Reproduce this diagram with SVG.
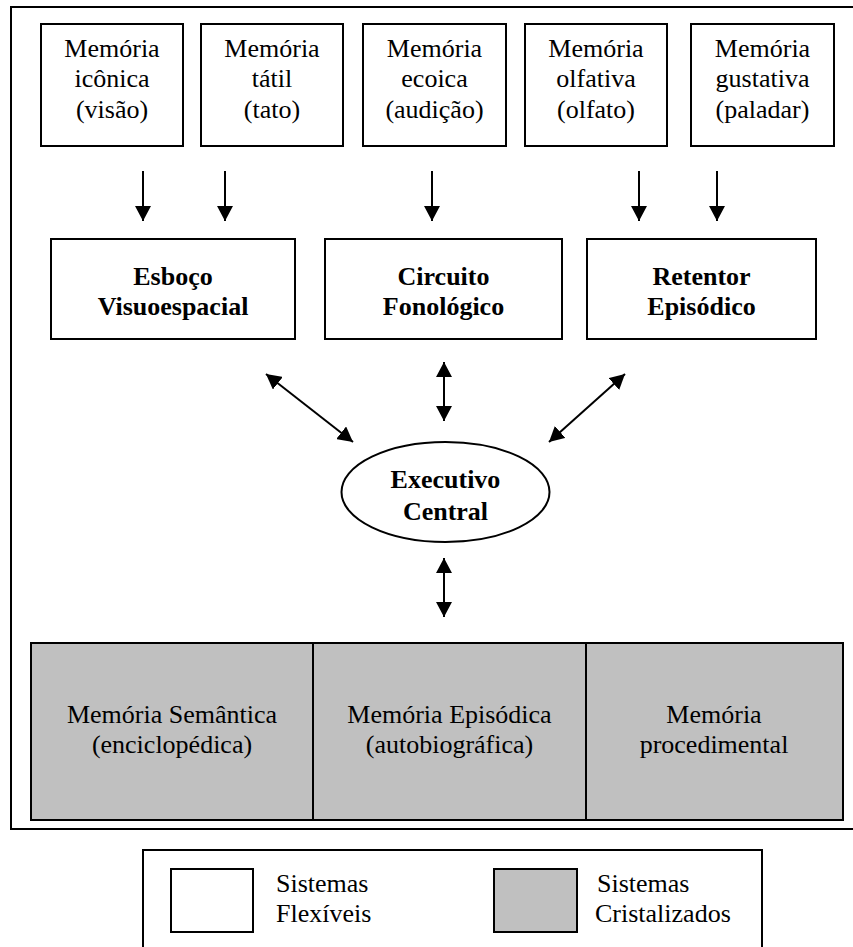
<svg xmlns="http://www.w3.org/2000/svg" width="853" height="947" viewBox="0 0 853 947">
<defs>
<style>
.bx{fill:#fff;stroke:#000;stroke-width:2}
.gr{fill:#c0c0c0;stroke:#000;stroke-width:2}
.t{font-family:"Liberation Serif","Times New Roman",serif;font-size:26px;fill:#000;text-anchor:middle}
.b{font-weight:bold}
.l{text-anchor:start}
.c{stroke:#000;stroke-width:2;fill:none}
</style>
<marker id="ah" markerUnits="userSpaceOnUse" markerWidth="16" markerHeight="16" refX="15" refY="8" orient="auto-start-reverse" viewBox="0 0 16 16">
<path d="M0,0 L15,8 L0,16 z" fill="#000"/>
</marker>
</defs>
<rect width="853" height="947" fill="#fff"/>
<rect id="frame" x="11" y="7" width="850" height="822" fill="none" stroke="#000" stroke-width="2"/>

<g id="iconica"><rect class="bx" x="41" y="24" width="142" height="122"/>
<text class="t" x="112" y="57">Memória</text><text class="t" x="112" y="87">icônica</text><text class="t" x="112" y="118">(visão)</text></g>
<g id="tatil"><rect class="bx" x="201" y="24" width="142" height="122"/>
<text class="t" x="272" y="57">Memória</text><text class="t" x="272" y="87">tátil</text><text class="t" x="272" y="118">(tato)</text></g>
<g id="ecoica"><rect class="bx" x="363" y="24" width="143" height="122"/>
<text class="t" x="434.5" y="57">Memória</text><text class="t" x="434.5" y="87">ecoica</text><text class="t" x="434.5" y="118">(audição)</text></g>
<g id="olfativa"><rect class="bx" x="525" y="24" width="142" height="122"/>
<text class="t" x="596" y="57">Memória</text><text class="t" x="596" y="87">olfativa</text><text class="t" x="596" y="118">(olfato)</text></g>
<g id="gustativa"><rect class="bx" x="691" y="24" width="143" height="122"/>
<text class="t" x="762.5" y="57">Memória</text><text class="t" x="762.5" y="87">gustativa</text><text class="t" x="762.5" y="118">(paladar)</text></g>

<g id="esboco"><rect class="bx" x="51" y="239" width="244" height="100"/>
<text class="t b" x="173" y="285">Esboço</text><text class="t b" x="173" y="315">Visuoespacial</text></g>
<g id="circuito"><rect class="bx" x="325" y="239" width="237" height="100"/>
<text class="t b" x="443.5" y="285">Circuito</text><text class="t b" x="443.5" y="315">Fonológico</text></g>
<g id="retentor"><rect class="bx" x="587" y="239" width="229" height="100"/>
<text class="t b" x="701.5" y="285">Retentor</text><text class="t b" x="701.5" y="315">Episódico</text></g>

<g id="executivo"><ellipse cx="445.5" cy="492" rx="104" ry="50" fill="#fff" stroke="#000" stroke-width="2"/>
<text class="t b" x="445.5" y="488">Executivo</text><text class="t b" x="445.5" y="520">Central</text></g>

<g id="semantica"><rect class="gr" x="31" y="643" width="282" height="177"/>
<text class="t" x="172" y="723">Memória Semântica</text><text class="t" x="172" y="753">(enciclopédica)</text></g>
<g id="episodica"><rect class="gr" x="313" y="643" width="273" height="177"/>
<text class="t" x="449.5" y="723">Memória Episódica</text><text class="t" x="449.5" y="753">(autobiográfica)</text></g>
<g id="procedimental"><rect class="gr" x="586" y="643" width="257" height="177"/>
<text class="t" x="714" y="723">Memória</text><text class="t" x="714" y="753">procedimental</text></g>

<g id="connectors">
<line class="c" x1="143" y1="171" x2="143" y2="221" marker-end="url(#ah)"/>
<line class="c" x1="225" y1="171" x2="225" y2="221" marker-end="url(#ah)"/>
<line class="c" x1="432" y1="171" x2="432" y2="221" marker-end="url(#ah)"/>
<line class="c" x1="639" y1="171" x2="639" y2="221" marker-end="url(#ah)"/>
<line class="c" x1="717" y1="171" x2="717" y2="221" marker-end="url(#ah)"/>
<line class="c" x1="444" y1="362" x2="444" y2="421" marker-start="url(#ah)" marker-end="url(#ah)"/>
<line class="c" x1="266" y1="374" x2="353" y2="442" marker-start="url(#ah)" marker-end="url(#ah)"/>
<line class="c" x1="625" y1="374" x2="549" y2="442" marker-start="url(#ah)" marker-end="url(#ah)"/>
<line class="c" x1="444" y1="558" x2="444" y2="617" marker-start="url(#ah)" marker-end="url(#ah)"/>
</g>

<g id="legend">
<rect x="143" y="850" width="619" height="110" fill="#fff" stroke="#000" stroke-width="2"/>
<rect class="bx" x="171" y="869" width="82" height="63"/>
<text class="t l" x="276" y="892">Sistemas</text><text class="t l" x="276" y="922">Flexíveis</text>
<rect class="gr" x="494" y="869" width="83" height="63"/>
<text class="t l" x="597" y="892">Sistemas</text><text class="t l" x="595" y="922">Cristalizados</text>
</g>
</svg>
